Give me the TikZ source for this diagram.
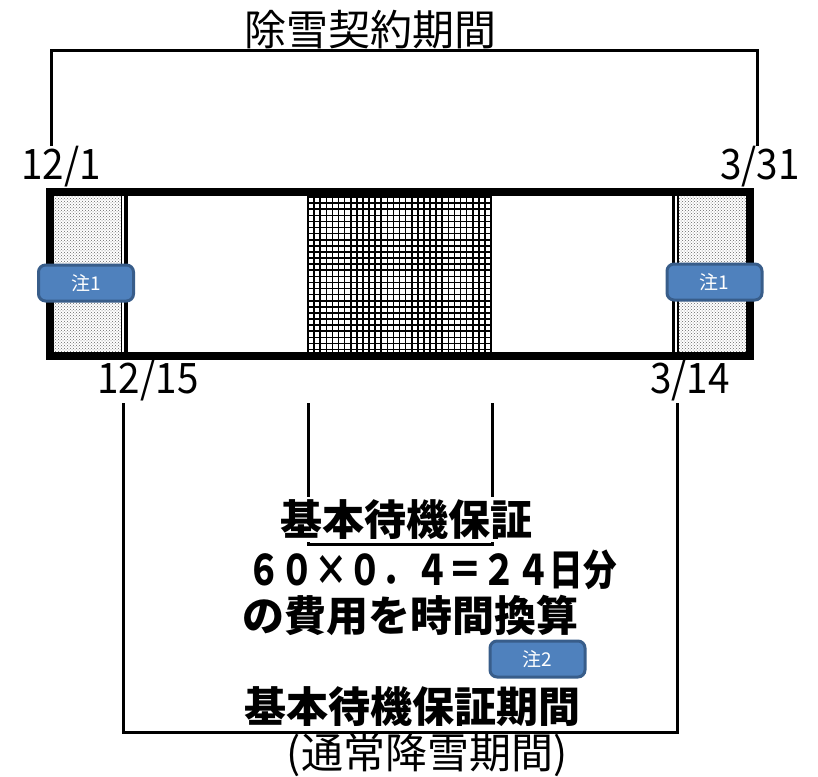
\documentclass[tikz,border=0pt]{standalone}
\usepackage{fontspec}
\setmainfont{Noto Sans CJK JP}
\usetikzlibrary{patterns}
\definecolor{noteblue}{HTML}{4F81BD}
\definecolor{noteedge}{HTML}{385D8A}
\tikzset{
 note/.style={draw=noteedge, line width=3pt, fill=noteblue, rounded corners=7pt, text=white, font=\fontsize{19}{19}\selectfont, minimum width=95pt, minimum height=36pt, inner sep=0pt},
 date/.style={font=\fontsize{42}{42}\selectfont, inner sep=0pt},
 big/.style={font=\fontsize{42}{42}\selectfont\bfseries, inner sep=0pt},
 dotted fill/.style={pattern=crosshatch dots, pattern color=gray!80!black},
 bracket/.style={line width=3pt}
}

\begin{document}
\begin{tikzpicture}[x=1pt, y=-1pt]
 \useasboundingbox (0,0) rectangle (818,776);
 % contract period
 \node[date] (title) at (370,30) {除雪契約期間};
 \coordinate (tl) at (51,146);
 \coordinate (tr) at (757,146);
 \draw[bracket] (tl) -- ++(0,-95) -| (tr);
 \node[date] (d1201) at (61,167) {\scalebox{0.92}[1]{12/1}};
 \node[date] (d0331) at (760,167) {\scalebox{0.92}[1]{3/31}};
 % bar
 \fill[dotted fill] (50,192) rectangle (122,356);
 \fill[dotted fill] (678,192) rectangle (750,356);
 \foreach \gx in {0,...,30}
  \draw[line width=1.6pt] ({308+\gx*6.1},196) -- ++(0,156);
 \foreach \gy in {0,...,25}
  \draw[line width=1.6pt] (308,{197+\gy*6.1}) -- ++(184,0);
 \draw[line width=1.5pt] (121.5,192) -- ++(0,164) (678,192) -- ++(0,164);
 \draw[line width=3.5pt] (126,192) -- ++(0,164) (673.5,192) -- ++(0,164);
 \draw[line width=8pt] (50,192) rectangle (750,356);
 \node[note] (n1l) at (86,283) {注1};
 \node[note] (n1r) at (714.5,282) {注1};
 \node[date] (d1215) at (148,381) {\scalebox{0.92}[1]{12/15}};
 \node[date] (d0314) at (690,381) {\scalebox{0.92}[1]{3/14}};
 % guarantee
 \coordinate (gl) at (308,403);
 \coordinate (gr) at (492,403);
 \draw[bracket] (gl) -- ++(0,141) -| (gr);
 \node[big, fill=white, minimum height=45pt] (kihon) at (406,519.5) {基本待機保証};
 \node[big, font=\fontsize{33.6}{34}\selectfont\bfseries] (calc) at (432,570) {\scalebox{1}[1.25]{６０×０．４＝２４日分}};
 \node[big] (hiyou) at (410,615) {の費用を時間換算};
 \node[note] (n2) at (537.5,659) {注2};
 \coordinate (pl) at (123,403);
 \coordinate (pr) at (677,403);
 \draw[bracket] (pl) -- ++(0,329) -| (pr);
 \node[big] (kikan) at (412,707) {基本待機保証期間};
 \node[date] (tsujo) at (427,755) {(通常降雪期間)};
\end{tikzpicture}
\end{document}
